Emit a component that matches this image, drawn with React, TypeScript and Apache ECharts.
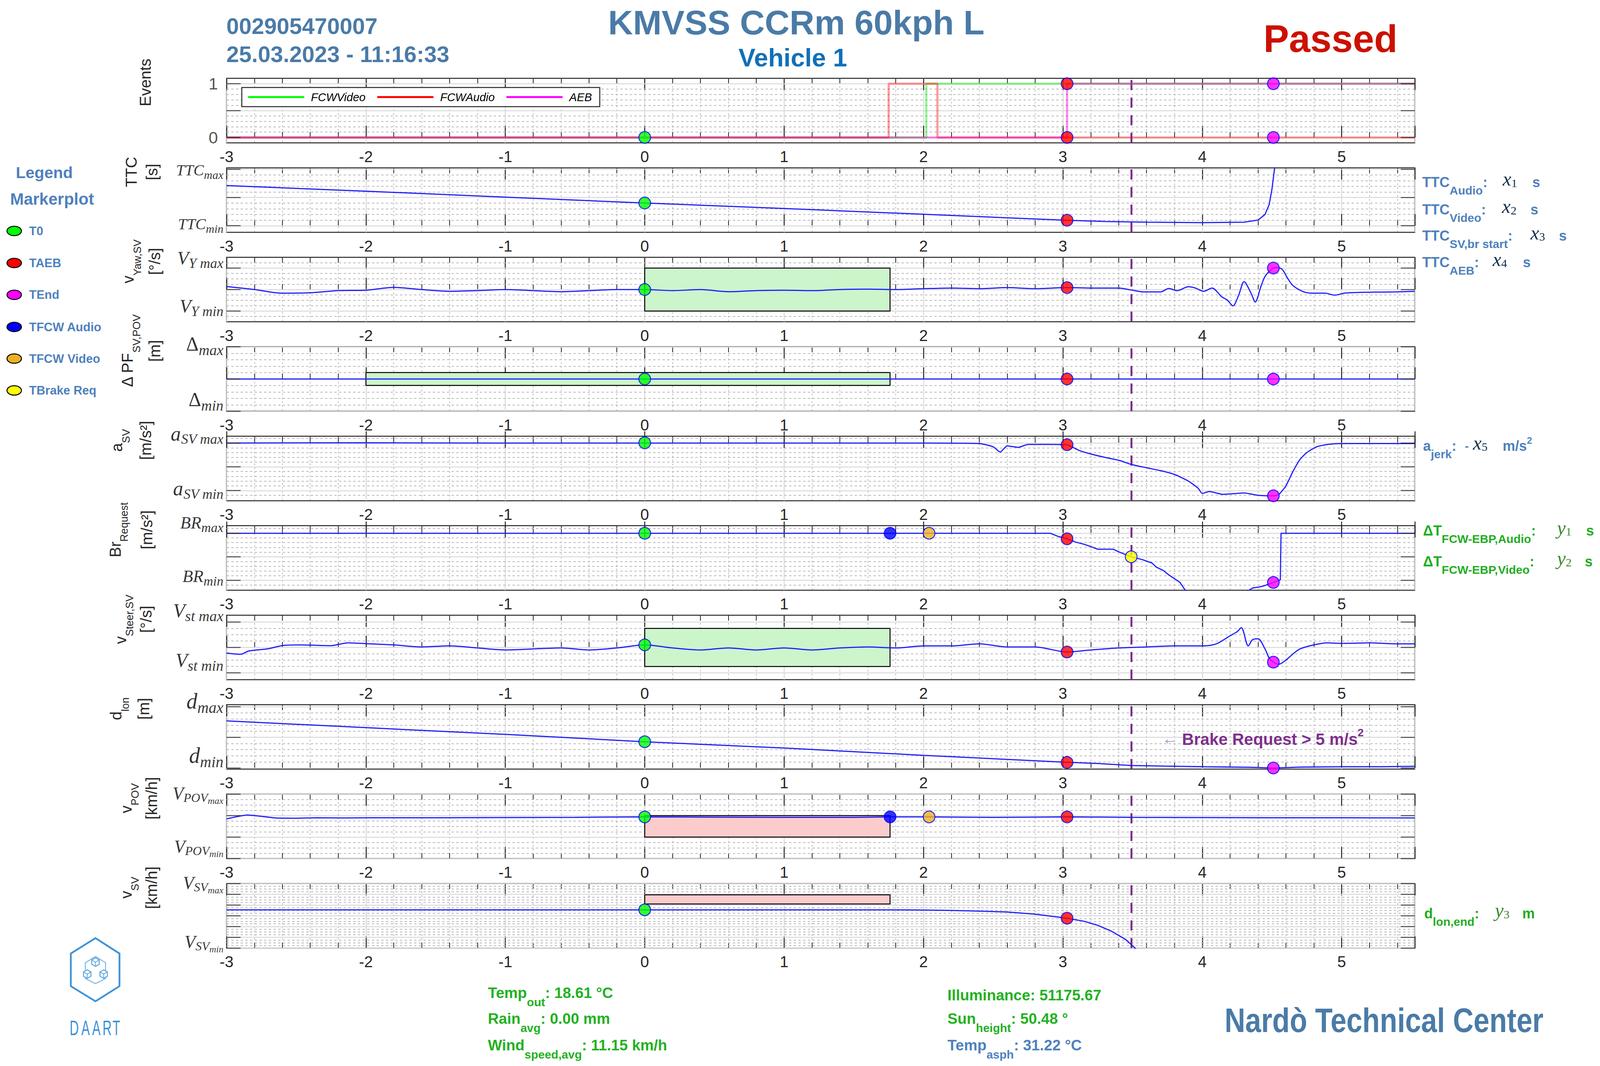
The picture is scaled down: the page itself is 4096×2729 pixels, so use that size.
import React, { useEffect, useRef } from "react";
import * as echarts from "echarts";

const W = 4096;
const H = 2729;
const SANS = "'Liberation Sans', Arial, Helvetica, sans-serif";
const SERIF = "'Liberation Serif', 'Times New Roman', serif";
const INK = "#262626";

// ---------------- x axis ----------------
const X_MIN = -3;
const X_MAX = 5.525;
const T_BRAKE_REQ = 3.49;

// ---------------- Events panel ----------------
const EV_FCW_VIDEO = [[-3, 0], [2.02, 0], [2.02, 1], [5.525, 1]];
const EV_FCW_AUDIO = [[-3, 0], [1.75, 0], [1.75, 1], [2.1, 1], [2.1, 0], [5.525, 0]];
const EV_AEB = [[-3, 0], [3.03, 0], [3.03, 1], [5.525, 1]];

// ---------------- signals ----------------
const TTC = [[-3, 2.85], [-2, 2.45], [-1, 2.03], [0, 1.61], [1, 1.22], [2, 0.81], [3, 0.4], [3.3, 0.3], [3.6, 0.25], [4.0, 0.22], [4.3, 0.25], [4.4, 0.4], [4.45, 0.8], [4.48, 1.5], [4.5, 2.6], [4.52, 4.2], [4.54, 6]];

const YAW = [[-3, 0.14], [-2.8, 0.0], [-2.6, -0.17], [-2.4, -0.15], [-2.2, -0.05], [-2.0, -0.03], [-1.8, 0.1], [-1.6, 0.0], [-1.4, -0.08], [-1.2, -0.05], [-1.0, 0.0], [-0.8, -0.05], [-0.6, -0.1], [-0.4, -0.05], [-0.2, 0.0], [0, 0.0], [0.2, -0.05], [0.4, 0.0], [0.6, -0.1], [0.8, -0.05], [1.0, -0.03], [1.2, -0.05], [1.4, 0.0], [1.6, 0.02], [1.8, 0.0], [2.0, 0.04], [2.2, 0.07], [2.4, 0.04], [2.6, 0.09], [2.8, 0.04], [3.03, 0.09], [3.2, 0.07], [3.4, 0.07], [3.49, -0.02], [3.58, -0.11], [3.7, -0.11], [3.76, 0.05], [3.82, -0.05], [3.9, 0.13], [3.95, 0.07], [4.01, -0.08], [4.07, 0.07], [4.14, -0.34], [4.18, -0.49], [4.22, -0.76], [4.26, -0.28], [4.3, 0.37], [4.35, -0.17], [4.38, -0.58], [4.42, 0.13], [4.45, 0.61], [4.49, 0.9], [4.52, 1.02], [4.57, 0.96], [4.61, 0.55], [4.65, 0.19], [4.73, -0.11], [4.8, -0.17], [4.88, -0.17], [4.95, -0.26], [5.02, -0.17], [5.1, -0.14], [5.24, -0.12], [5.38, -0.11], [5.525, -0.08]];

const DPF = [[-3, 0], [-1.5, 0], [0, 0], [1.5, 0], [3, 0], [4.5, 0], [5.525, 0]];

const ASV = [[-3, 0], [-2, 0.05], [-1, 0], [0, 0], [1, 0], [2, 0], [2.4, -0.1], [2.5, -0.8], [2.55, -1.9], [2.6, -0.6], [2.68, -0.9], [2.75, -0.3], [2.9, -0.3], [3.03, -0.4], [3.12, -1.6], [3.2, -2.3], [3.3, -3.0], [3.41, -3.7], [3.49, -4.5], [3.6, -5.2], [3.7, -5.8], [3.8, -6.6], [3.9, -8.0], [3.97, -9.5], [4.0, -10.6], [4.05, -10.2], [4.15, -10.8], [4.3, -10.5], [4.4, -11.0], [4.51, -11.1], [4.55, -10.8], [4.6, -9.0], [4.65, -6.0], [4.7, -3.5], [4.75, -2.0], [4.82, -0.8], [4.9, -0.3], [5.0, -0.1], [5.525, -0.1]];

const BR = [[-3, 0], [2.91, 0], [2.97, -0.72], [3.03, -1.18], [3.09, -1.87], [3.15, -2.32], [3.21, -2.94], [3.25, -3.39], [3.36, -3.39], [3.41, -4.06], [3.49, -5.0], [3.57, -5.6], [3.64, -6.34], [3.67, -7.2], [3.72, -7.9], [3.76, -8.85], [3.84, -10.45], [3.88, -12.2], [3.95, -13.5], [4.1, -14.5], [4.25, -13.5], [4.33, -12.2], [4.36, -11.65], [4.41, -11.4], [4.44, -11.2], [4.51, -10.45], [4.56, -9.9], [4.565, 0], [5.525, 0]];

const STEER = [[-3, -0.22], [-2.9, -0.27], [-2.84, -0.14], [-2.71, -0.06], [-2.59, 0.08], [-2.47, 0.1], [-2.25, 0.07], [-2.13, 0.18], [-1.97, 0.14], [-1.8, 0.1], [-1.6, 0.02], [-1.4, 0.06], [-1.2, -0.02], [-1.0, -0.1], [-0.8, -0.06], [-0.6, -0.02], [-0.4, -0.1], [-0.2, -0.02], [0, 0.1], [0.2, -0.02], [0.4, -0.1], [0.6, -0.02], [0.8, -0.1], [1.0, -0.02], [1.2, -0.1], [1.4, -0.02], [1.6, 0.02], [1.8, -0.02], [2.0, 0.06], [2.2, 0.06], [2.4, 0.14], [2.6, 0.02], [2.8, 0.02], [3.03, -0.18], [3.2, -0.1], [3.4, -0.02], [3.6, 0.02], [3.8, 0.06], [4.0, 0.06], [4.1, 0.14], [4.2, 0.46], [4.25, 0.62], [4.28, 0.78], [4.33, 0.06], [4.36, 0.3], [4.4, 0.34], [4.45, -0.06], [4.48, -0.42], [4.51, -0.58], [4.55, -0.66], [4.6, -0.5], [4.65, -0.26], [4.7, -0.06], [4.8, 0.1], [4.9, 0.18], [5.0, 0.16], [5.2, 0.18], [5.4, 0.14], [5.525, 0.14]];

const DLON = [[-3, 46.1], [-2, 39.5], [-1, 32.9], [0, 25.7], [1, 19.6], [2, 12.4], [3, 5.8], [3.26, 4.4], [3.49, 2.5], [3.73, 1.9], [4.01, 1.3], [4.35, 0.7], [4.51, 0], [4.7, 0.9], [5.0, 1.3], [5.29, 1.3], [5.525, 1.7]];

const VPOV = [[-3, 19.24], [-2.85, 20.15], [-2.74, 19.8], [-2.65, 19.45], [-2.5, 19.4], [-2.35, 19.5], [-2.17, 19.45], [-1.96, 19.5], [-1.5, 19.5], [-1, 19.55], [-0.5, 19.6], [0, 19.7], [0.5, 19.65], [1, 19.6], [1.5, 19.6], [1.76, 19.7], [2.04, 19.7], [2.5, 19.6], [3.03, 19.7], [3.5, 19.6], [4, 19.55], [4.5, 19.5], [5, 19.5], [5.525, 19.45]];

const VSV = [[-3, 57.8], [-2, 57.8], [-1, 57.8], [0, 57.8], [1, 57.8], [1.76, 57.8], [2.0, 57.7], [2.2, 57.5], [2.4, 57.2], [2.6, 56.8], [2.8, 55.8], [3.03, 53.9], [3.15, 52.5], [3.25, 50.6], [3.35, 47.8], [3.45, 44], [3.5, 41.1], [3.53, 39.2], [3.6, 36]];

// ---------------- corridor boxes [x0, y0, x1, y1] ----------------
const BOX_YAW = [0, -1, 1.76, 1];
const BOX_DPF = [-2, -0.2, 1.76, 0.2];
const BOX_STEER = [0, -0.75, 1.76, 0.75];
const BOX_VPOV = [0, 15, 1.76, 20];
const BOX_VSV = [0, 60.5, 1.76, 64.8];

// ---------------- markers [name, x, y] ----------------
const MK_EVENTS = [["T0", 0, 0], ["TAEB", 3.03, 1], ["TAEB", 3.03, 0], ["TEnd", 4.51, 1], ["TEnd", 4.51, 0]];
const MK_TTC = [["T0", 0, 1.61], ["TAEB", 3.03, 0.39]];
const MK_YAW = [["T0", 0, 0], ["TAEB", 3.03, 0.09], ["TEnd", 4.51, 1.0]];
const MK_DPF = [["T0", 0, 0], ["TAEB", 3.03, 0], ["TEnd", 4.51, 0]];
const MK_ASV = [["T0", 0, 0.05], ["TAEB", 3.03, -0.35], ["TEnd", 4.51, -11.1]];
const MK_BR = [["T0", 0, 0], ["TFCW Audio", 1.76, 0], ["TFCW Video", 2.04, 0], ["TAEB", 3.03, -1.18], ["TBrake Req", 3.49, -5.0], ["TEnd", 4.51, -10.45]];
const MK_STEER = [["T0", 0, 0.1], ["TAEB", 3.03, -0.18], ["TEnd", 4.51, -0.58]];
const MK_DLON = [["T0", 0, 25.7], ["TAEB", 3.03, 5.5], ["TEnd", 4.51, 0]];
const MK_VPOV = [["T0", 0, 19.7], ["TFCW Audio", 1.76, 19.7], ["TFCW Video", 2.04, 19.7], ["TAEB", 3.03, 19.7]];
const MK_VSV = [["T0", 0, 57.8], ["TAEB", 3.03, 53.9]];

const MARKER_NAMES = ["T0", "TAEB", "TEnd", "TFCW Audio", "TFCW Video", "TBrake Req"];
const MARKER_COLORS: any = { "T0": "#00ff00", "TAEB": "#ff0000", "TEnd": "#ff00ff", "TFCW Audio": "#0000ff", "TFCW Video": "#edb120", "TBrake Req": "#ffff00" };

// ---------------- axes of the panels ----------------
const PANEL_Y_MIN = [-0.1, -0.47, -1.5, -1, -12.14, -12.1, -1.27, -1.1, 10, 40];
const PANEL_Y_MAX = [1.1, 4.11, 1.5, 1, 1.43, 1.6, 1.27, 62, 25, 70];
const PANEL_MAJOR = [[0, 0.5, 1], [0, 2, 4], [-1, 0, 1], [-1, 0, 1], [-10, -5, 0], [-10, -5, 0], [-1, 0, 1], [0, 30, 60], [10, 15, 20, 25], [40, 45, 50, 55, 60, 65, 70]];
const PANEL_MINOR_STEP = [0.1, 0.4, 0.25, 0.2, 1, 1, 0.25, 6, 1.25, 1.25];
// [tick value, label, vertical offset]
const PANEL_LABELS: any[] = [
  [[1, "{n|1}", 0], [0, "{n|0}", 0]],
  [[4, "{m|TTC}{s|max}", 1.5], [0, "{m|TTC}{s|min}", -4.5]],
  [[1, "{m|V}{s|Y max}", -26], [-1, "{m|V}{s|Y min}", -13]],
  [[1, "{u|Δ}{s|max}", -8], [-1, "{u|Δ}{s|min}", -31]],
  [[0, "{m|a}{s|SV max}", -24], [-10, "{m|a}{s|SV min}", -5]],
  [[0, "{m|BR}{s|max}", -26.5], [-10, "{m|BR}{s|min}", -10.5]],
  [[1, "{m|V}{s|st max}", -29], [-1, "{m|V}{s|st min}", -32]],
  [[60, "{m|d}{s|max}", -14], [0, "{m|d}{s|min}", -32]],
  [[25, "{m|V}{s|POV}{ss|max}", -1.5], [10, "{m|V}{s|POV}{ss|min}", -30.5]],
  [[70, "{m|V}{s|SV}{ss|max}", -1.5], [40, "{m|V}{s|SV}{ss|min}", -15.5]],
];
// [main font, sub font, sub offset, subsub font, subsub offset]
const PANEL_LABEL_FONT = [[43, 0, 0], [40, 30, 12], [48, 36, 14], [50, 38, 16], [52, 36, 14], [44, 34, 12], [50, 38, 14], [56, 40, 16], [46, 32, 10, 24, 18], [46, 32, 10, 24, 18]];

const TITLE_MAIN = ["{m|Events}", "{m|TTC}", "{m|v}{s|Yaw,SV}", "{m|Δ PF}{s|SV,POV}", "{m|a}{s|SV}", "{m|Br}{s|Request}", "{m|v}{s|Steer,SV}", "{m|d}{s|lon}", "{m|v}{s|POV}", "{m|v}{s|SV}"];
const TITLE_UNIT = ["", "[s]", "[°/s]", "[m]", "[m/s²]", "[m/s²]", "[°/s]", "[m]", "[km/h]", "[km/h]"];
const TITLE_MAIN_X = [372.4, 335.5, 328, 326, 299, 294.7, 308.7, 296.8, 322.7, 322.7];
const TITLE_UNIT_X = [0, 389.4, 396, 396, 373, 376, 373.8, 368, 387.6, 387.6];

// ---------------- layout ----------------
const GRID_LEFT = 580;
const GRID_WIDTH = 3042;
const PANEL_TOP0 = 200.6;
const PANEL_PITCH = 229.05;
const PANEL_HEIGHT = 165.1;

const MINOR_STYLE = { type: [6, 6], color: "#b8b8b8", width: 2 };
const MAJOR_STYLE = { type: "solid", color: "#dadada", width: 2.5 };
const LINE_BLUE = "#2020ff";

function hLines(i: number) {
  const majors = PANEL_MAJOR[i];
  const step = PANEL_MINOR_STEP[i];
  const lo = PANEL_Y_MIN[i];
  const hi = PANEL_Y_MAX[i];
  const eps = step * 0.01;
  const tol = step * 0.3;
  const minors: number[] = [];
  for (let v = majors[0] - step; v > lo + tol; v -= step) minors.push(v);
  for (let k = 0; k < majors.length - 1; k++) {
    for (let v = majors[k] + step; v < majors[k + 1] - eps; v += step) minors.push(v);
  }
  for (let v = majors[majors.length - 1] + step; v < hi - tol; v += step) minors.push(v);
  return [
    ...minors.map((v) => ({ yAxis: +v.toFixed(6), lineStyle: MINOR_STYLE })),
    ...majors.map((v) => ({ yAxis: v, lineStyle: MAJOR_STYLE })),
  ];
}

function labelRich(i: number) {
  const [F, f, off, ff, off2] = PANEL_LABEL_FONT[i] as number[];
  return {
    n: { fontFamily: SANS, fontSize: F, color: INK },
    m: { fontFamily: SERIF, fontStyle: "italic", fontSize: F, lineHeight: F, verticalAlign: "top", color: "#000" },
    u: { fontFamily: SERIF, fontSize: F, lineHeight: F, verticalAlign: "top", color: "#000" },
    s: { fontFamily: SERIF, fontStyle: "italic", fontSize: f || 10, lineHeight: f || 10, verticalAlign: "top", padding: [F / 2 + off - (f || 10) / 2, 0, 0, 0], color: "#000" },
    ss: { fontFamily: SERIF, fontStyle: "italic", fontSize: ff || 10, lineHeight: ff || 10, verticalAlign: "top", padding: [F / 2 + (off2 || 0) - (ff || 10) / 2, 0, 0, 0], color: "#000" },
  };
}

const X_LABEL = (v: number) => (Math.abs(v - Math.round(v)) < 1e-6 ? String(Math.round(v)) : "");

function buildOption() {
  const grid: any[] = [];
  const xAxis: any[] = [];
  const yAxis: any[] = [];
  const series: any[] = [];

  const signals = [null, TTC, YAW, DPF, ASV, BR, STEER, DLON, VPOV, VSV];
  const smooth = [0, 0, 0.3, 0, 0.2, 0, 0.3, 0, 0.2, 0];
  const boxes: any[] = [null, null, [BOX_YAW, "#ccf5cc"], [BOX_DPF, "#ccf5cc"], null, null, [BOX_STEER, "#ccf5cc"], null, [BOX_VPOV, "#fccccc"], [BOX_VSV, "#fccccc"]];
  const markers = [MK_EVENTS, MK_TTC, MK_YAW, MK_DPF, MK_ASV, MK_BR, MK_STEER, MK_DLON, MK_VPOV, MK_VSV];

  for (let i = 0; i < 10; i++) {
    const top = PANEL_TOP0 + i * PANEL_PITCH;
    grid.push({ left: GRID_LEFT, width: GRID_WIDTH, top, height: PANEL_HEIGHT, show: true, backgroundColor: "#fff", borderColor: INK, borderWidth: 2.5, containLabel: false });
    xAxis.push({
      type: "value", gridIndex: i, min: X_MIN, max: X_MAX, interval: 1, position: "bottom",
      axisLine: { show: false },
      axisTick: { show: true, inside: true, length: 30, lineStyle: { color: INK, width: 2.5 } },
      minorTick: { show: true, splitNumber: 5, length: 14, lineStyle: { color: INK, width: 2 } },
      axisLabel: { show: true, margin: 15, fontSize: 40, color: INK, fontFamily: SANS, formatter: X_LABEL },
      splitLine: { show: true, lineStyle: { color: "#dadada", width: 2.5 } },
      minorSplitLine: { show: true, lineStyle: { color: "#b8b8b8", width: 2, type: [4, 6] } },
    });
    xAxis.push({
      type: "value", gridIndex: i, min: X_MIN, max: X_MAX, interval: 1, position: "top",
      axisLine: { show: false },
      axisTick: { show: true, inside: true, length: 30, lineStyle: { color: INK, width: 2.5 } },
      minorTick: { show: true, splitNumber: 5, length: 14, lineStyle: { color: INK, width: 2 } },
      axisLabel: { show: false }, splitLine: { show: false }, minorSplitLine: { show: false },
    });
    yAxis.push({ type: "value", gridIndex: i, min: PANEL_Y_MIN[i], max: PANEL_Y_MAX[i], show: false });

    const xi = 2 * i;
    const yi = i;
    const box = boxes[i];
    series.push({
      type: "line", name: "grid" + i, xAxisIndex: xi, yAxisIndex: yi, data: [], silent: true, z: 1,
      markLine: { silent: true, z: 1, symbol: ["none", "none"], label: { show: false }, data: hLines(i) },
      markArea: box ? {
        silent: true, z: 2,
        itemStyle: { color: box[1], borderColor: "#000", borderWidth: 2.5 },
        data: [[{ coord: [box[0][0], box[0][1]] }, { coord: [box[0][2], box[0][3]] }]],
      } : undefined,
    });

    const purple = {
      silent: true, z: 3, symbol: ["none", "none"], label: { show: false },
      lineStyle: { color: "#7e2f8e", width: 5, type: [26, 19] },
      data: [{ xAxis: T_BRAKE_REQ }],
    };

    if (i === 0) {
      const evs: any[] = [["FCWVideo", EV_FCW_VIDEO, "rgba(0,230,0,0.42)", "#00ff00"], ["FCWAudio", EV_FCW_AUDIO, "rgba(255,0,0,0.4)", "#ff0000"], ["AEB", EV_AEB, "rgba(240,0,200,0.45)", "#ff00ff"]];
      evs.forEach((e, k) => {
        series.push({
          type: "line", name: e[0], xAxisIndex: xi, yAxisIndex: yi, data: e[1], showSymbol: false, symbol: "none", z: 4,
          lineStyle: { color: e[2], width: 5.5 }, itemStyle: { color: e[3] },
          markLine: k === 0 ? purple : undefined,
        });
      });
    } else {
      series.push({
        type: "line", name: "signal" + i, xAxisIndex: xi, yAxisIndex: yi, data: signals[i], showSymbol: false, symbol: "none", z: 4,
        smooth: smooth[i], lineStyle: { color: LINE_BLUE, width: 3 }, itemStyle: { color: LINE_BLUE },
        markLine: purple,
      });
    }

    series.push({
      type: "scatter", name: "markers" + i, xAxisIndex: xi, yAxisIndex: yi, z: 6, silent: true,
      symbol: "circle", symbolSize: 30,
      data: (markers[i] as any[]).map((m) => ({ name: m[0], value: [m[1], m[2]], itemStyle: { color: MARKER_COLORS[m[0]], borderColor: "#0000ff", borderWidth: 2.5 } })),
    });

    const labels = PANEL_LABELS[i];
    const rich = labelRich(i);
    series.push({
      type: "scatter", name: "yticksL" + i, xAxisIndex: xi, yAxisIndex: yi, z: 5, silent: true, clip: false,
      symbol: "rect", symbolSize: [36, 2.5], symbolOffset: [18, 0], itemStyle: { color: INK },
      data: PANEL_MAJOR[i].map((v) => {
        const lab = labels.find((l: any) => l[0] === v);
        return {
          value: [X_MIN, v],
          label: lab ? { show: true, position: "left", distance: i === 0 ? 22 : 8, offset: [0, lab[2]], formatter: lab[1], rich } : { show: false },
        };
      }),
    });
    series.push({
      type: "scatter", name: "yticksR" + i, xAxisIndex: xi, yAxisIndex: yi, z: 5, silent: true, clip: false,
      symbol: "rect", symbolSize: [36, 2.5], symbolOffset: [-18, 0], itemStyle: { color: INK },
      data: PANEL_MAJOR[i].map((v) => [X_MAX, v]),
    });
  }

  return {
    animation: false,
    backgroundColor: "#ffffff",
    grid, xAxis, yAxis, series,
    legend: [{
      data: [
        { name: "FCWVideo", itemStyle: { color: "#00ff00" } },
        { name: "FCWAudio", itemStyle: { color: "#ff0000" } },
        { name: "AEB", itemStyle: { color: "#ff00ff" } },
      ],
      left: 619, top: 224, orient: "horizontal", icon: "rect", itemWidth: 144, itemHeight: 5, itemGap: 30,
      padding: [10, 20, 10, 16], backgroundColor: "#ffffff", borderColor: INK, borderWidth: 2.5, borderRadius: 0,
      selectedMode: false, z: 10,
      textStyle: { fontFamily: SANS, fontStyle: "italic", fontSize: 29, color: "#000", padding: [0, 0, 0, 12] },
    }],
    graphic: { elements: buildGraphics() },
  };
}

// ---------------- graphics (texts, legend, logo) ----------------
const HEAD_BLUE = "#4a7ba7";
const LEG_BLUE = "#4f81bd";
const NAVY = "#10304f";
const GREEN = "#1fae1f";
const DK_GREEN = "#3a8a2a";
const ENV_GREEN = "#22b222";

function tx(x: number, y: number, text: string, style: any, extra: any = {}) {
  return { type: "text", x, y, silent: true, z: 20, style: { text, ...style }, ...extra };
}

function subRich(F: number, f: number, off: number, fill: string) {
  return {
    t: { fontFamily: SANS, fontWeight: "bold", fontSize: F, lineHeight: F, verticalAlign: "top", fill },
    s: { fontFamily: SANS, fontWeight: "bold", fontSize: f, lineHeight: f, verticalAlign: "top", padding: [F / 2 + off - f / 2, 0, 0, 0], fill },
  };
}

function varRich(fill: string) {
  return {
    v: { fontFamily: SERIF, fontStyle: "italic", fontSize: 50, lineHeight: 50, verticalAlign: "top", fill },
    vs: { fontFamily: SERIF, fontSize: 30, lineHeight: 30, verticalAlign: "top", padding: [20, 0, 0, 0], fill },
  };
}

function annotation(y: number, label: string, lx: number, varText: string, vx: number, unit: string, ux: number, fill: string, varFill: string) {
  const out: any[] = [];
  out.push(tx(lx, y - 18, label, { rich: subRich(36, 30, 21, fill), verticalAlign: "top", align: "left" }));
  out.push(tx(vx, y - 33, varText, { rich: varRich(varFill), verticalAlign: "top", align: "left" }));
  if (unit === "m/s²") {
    out.push(tx(ux, y - 26, "{t|m/s}{p|2}", {
      rich: {
        t: { fontFamily: SANS, fontWeight: "bold", fontSize: 36, lineHeight: 36, verticalAlign: "top", padding: [8, 0, 0, 0], fill },
        p: { fontFamily: SANS, fontWeight: "bold", fontSize: 24, lineHeight: 24, verticalAlign: "top", fill },
      }, verticalAlign: "top", align: "left",
    }));
  } else {
    out.push(tx(ux, y, unit, { fontFamily: SANS, fontWeight: "bold", fontSize: 36, fill, verticalAlign: "middle", align: "left" }));
  }
  return out;
}

function hexPoints(cx: number, cy: number, r: number) {
  return [[cx, cy - r], [cx + 0.866 * r, cy - 0.5 * r], [cx + 0.866 * r, cy + 0.5 * r], [cx, cy + r], [cx - 0.866 * r, cy + 0.5 * r], [cx - 0.866 * r, cy - 0.5 * r]];
}

function buildGraphics() {
  const g: any[] = [];
  g.push(tx(579.5, 66.3, "002905470007", { fontFamily: SANS, fontWeight: "bold", fontSize: 58, fill: HEAD_BLUE, verticalAlign: "middle", align: "left" }));
  g.push(tx(579.5, 138.4, "25.03.2023 - 11:16:33", { fontFamily: SANS, fontWeight: "bold", fontSize: 58, fill: HEAD_BLUE, verticalAlign: "middle", align: "left" }));
  g.push(tx(2038.5, 57, "KMVSS CCRm 60kph L", { fontFamily: SANS, fontWeight: "bold", fontSize: 88, fill: HEAD_BLUE, verticalAlign: "middle", align: "center" }));
  g.push(tx(2029.6, 147.3, "Vehicle 1", { fontFamily: SANS, fontWeight: "bold", fontSize: 65, fill: "#1070b8", verticalAlign: "middle", align: "center" }));
  g.push(tx(3406, 99, "Passed", { fontFamily: SANS, fontWeight: "bold", fontSize: 98, fill: "#cc1100", verticalAlign: "middle", align: "center" }));

  g.push(tx(40.5, 441.5, "Legend", { fontFamily: SANS, fontWeight: "bold", fontSize: 41, fill: LEG_BLUE, verticalAlign: "middle", align: "left" }));
  g.push(tx(25.9, 509.8, "Markerplot", { fontFamily: SANS, fontWeight: "bold", fontSize: 42, fill: LEG_BLUE, verticalAlign: "middle", align: "left" }));
  const legY = [591.2, 673.2, 754.7, 837, 918, 999.6];
  MARKER_NAMES.forEach((n, k) => {
    g.push({ type: "ellipse", silent: true, z: 20, shape: { cx: 36.4, cy: legY[k], rx: 18.5, ry: 12 }, style: { fill: MARKER_COLORS[n], stroke: "#000", lineWidth: 2.5 } });
    g.push(tx(74.5, legY[k], n, { fontFamily: SANS, fontWeight: "bold", fontSize: 31, fill: LEG_BLUE, verticalAlign: "middle", align: "left" }));
  });

  const titleRich = {
    m: { fontFamily: SANS, fontSize: 40, lineHeight: 40, verticalAlign: "top", fill: INK },
    s: { fontFamily: SANS, fontSize: 27, lineHeight: 27, verticalAlign: "top", padding: [20 + 23.8 - 13.5, 0, 0, 0], fill: INK },
  };
  for (let i = 0; i < 10; i++) {
    const yc = PANEL_TOP0 + i * PANEL_PITCH + 10.5;
    g.push(tx(TITLE_MAIN_X[i] - 20, yc, TITLE_MAIN[i], { rich: titleRich, align: "center", verticalAlign: "top" }, { rotation: Math.PI / 2 }));
    if (TITLE_UNIT[i]) {
      g.push(tx(TITLE_UNIT_X[i], yc, TITLE_UNIT[i], { fontFamily: SANS, fontSize: 40, fill: INK, align: "center", verticalAlign: "middle" }, { rotation: Math.PI / 2 }));
    }
  }

  g.push(...annotation(466.3, "{t|TTC}{s|Audio}{t|:}", 3641, "{v|x}{vs|1}", 3846.8, "s", 3922.8, LEG_BLUE, NAVY));
  g.push(...annotation(536, "{t|TTC}{s|Video}{t|:}", 3641, "{v|x}{vs|2}", 3845, "s", 3918, LEG_BLUE, NAVY));
  g.push(...annotation(603.8, "{t|TTC}{s|SV,br start}{t|:}", 3641, "{v|x}{vs|3}", 3918, "s", 3990.8, LEG_BLUE, NAVY));
  g.push(...annotation(671.5, "{t|TTC}{s|AEB}{t|:}", 3641, "{v|x}{vs|4}", 3820.9, "s", 3898.6, LEG_BLUE, NAVY));
  g.push(...annotation(1141.6, "{t|a}{s|jerk}{t|:}", 3643, "{v|x}{vs|5}", 3770.7, "m/s²", 3846.8, LEG_BLUE, NAVY));
  g.push(tx(3750, 1141.6, "-", { fontFamily: SANS, fontWeight: "bold", fontSize: 30, fill: LEG_BLUE, verticalAlign: "middle", align: "left" }));
  g.push(...annotation(1358.9, "{t|ΔT}{s|FCW-EBP,Audio}{t|:}", 3643, "{v|y}{vs|1}", 3986, "s", 4060.4, GREEN, DK_GREEN));
  g.push(...annotation(1437.3, "{t|ΔT}{s|FCW-EBP,Video}{t|:}", 3643, "{v|y}{vs|2}", 3986, "s", 4057, GREEN, DK_GREEN));
  g.push(...annotation(2338, "{t|d}{s|lon,end}{t|:}", 3646, "{v|y}{vs|3}", 3827, "m", 3897, GREEN, DK_GREEN));

  g.push(tx(2975, 1861, "{a|← }{b|Brake Request > 5 m/s}{c|2}", {
    rich: {
      a: { fontFamily: SANS, fontSize: 40, lineHeight: 42, verticalAlign: "top", padding: [10, 0, 0, 0], fill: "#b48cc8" },
      b: { fontFamily: SANS, fontWeight: "bold", fontSize: 42, lineHeight: 42, verticalAlign: "top", padding: [10, 0, 0, 0], fill: "#7e2f8e" },
      c: { fontFamily: SANS, fontWeight: "bold", fontSize: 28, lineHeight: 28, verticalAlign: "top", fill: "#7e2f8e" },
    }, verticalAlign: "top", align: "left",
  }));

  const envRich = (fill: string) => subRich(38.5, 30, 24, fill);
  g.push(tx(1249, 2541 - 19.25, "{t|Temp}{s|out}{t|: 18.61 °C}", { rich: envRich(ENV_GREEN), verticalAlign: "top", align: "left" }));
  g.push(tx(1249, 2607 - 19.25, "{t|Rain}{s|avg}{t|: 0.00 mm}", { rich: envRich(ENV_GREEN), verticalAlign: "top", align: "left" }));
  g.push(tx(1249, 2675 - 19.25, "{t|Wind}{s|speed,avg}{t|: 11.15 km/h}", { rich: envRich(ENV_GREEN), verticalAlign: "top", align: "left" }));
  g.push(tx(2425.6, 2547 - 19.25, "{t|Illuminance: 51175.67}", { rich: envRich(ENV_GREEN), verticalAlign: "top", align: "left" }));
  g.push(tx(2425.6, 2607 - 19.25, "{t|Sun}{s|height}{t|: 50.48 °}", { rich: envRich(ENV_GREEN), verticalAlign: "top", align: "left" }));
  g.push(tx(2425.6, 2675 - 19.25, "{t|Temp}{s|asph}{t|: 31.22 °C}", { rich: envRich(LEG_BLUE), verticalAlign: "top", align: "left" }));

  g.push(tx(3135, 2612, "Nardò Technical Center", { fontFamily: SANS, fontWeight: "bold", fontSize: 88, fill: HEAD_BLUE, verticalAlign: "middle", align: "left" }, { scaleX: 0.832 }));

  g.push({ type: "polygon", silent: true, z: 20, shape: { points: [[244.4, 2401.6], [305.9, 2441], [305.9, 2524.6], [244.4, 2563.4], [181.3, 2524.6], [181.3, 2441]] }, style: { fill: "none", stroke: "#3d93d8", lineWidth: 4.5 } });
  g.push({ type: "polygon", silent: true, z: 20, shape: { points: [[244.4, 2448.6], [270.2, 2464.8], [270.2, 2505.2], [244.4, 2518.1], [218.5, 2505.2], [218.5, 2464.8]] }, style: { fill: "none", stroke: "#7ab8e8", lineWidth: 2.5 } });
  [[244.4, 2463], [223.3, 2493.6], [265.4, 2493.6]].forEach(([cx, cy]) => {
    const p = hexPoints(cx, cy, 11);
    g.push({ type: "polygon", silent: true, z: 21, shape: { points: p }, style: { fill: "#fff", stroke: "#5aa5e0", lineWidth: 2.5 } });
    g.push({ type: "polyline", silent: true, z: 22, shape: { points: [p[5], [cx, cy], p[1]] }, style: { fill: "none", stroke: "#5aa5e0", lineWidth: 2 } });
    g.push({ type: "line", silent: true, z: 22, shape: { x1: cx, y1: cy, x2: cx, y2: cy + 11 }, style: { stroke: "#5aa5e0", lineWidth: 2 } });
  });
  const letters = ["D", "A", "A", "R", "T"];
  const lx = [190, 219, 246.6, 274.1, 297.8];
  letters.forEach((L, k) => {
    g.push(tx(lx[k], 2631.4, L, { fontFamily: SANS, fontSize: 54, fill: "#3d93d8", verticalAlign: "middle", align: "center" }, { scaleX: 0.6 }));
  });
  return g;
}

export default function App() {
  const ref = useRef<HTMLDivElement>(null);
  useEffect(() => {
    if (!ref.current) return;
    const chart = echarts.init(ref.current, undefined, { renderer: "svg", width: W, height: H });
    chart.setOption(buildOption() as any);
    return () => chart.dispose();
  }, []);
  return <div ref={ref} style={{ position: "fixed", left: 0, top: 0, width: W, height: H, background: "#fff" }} />;
}
